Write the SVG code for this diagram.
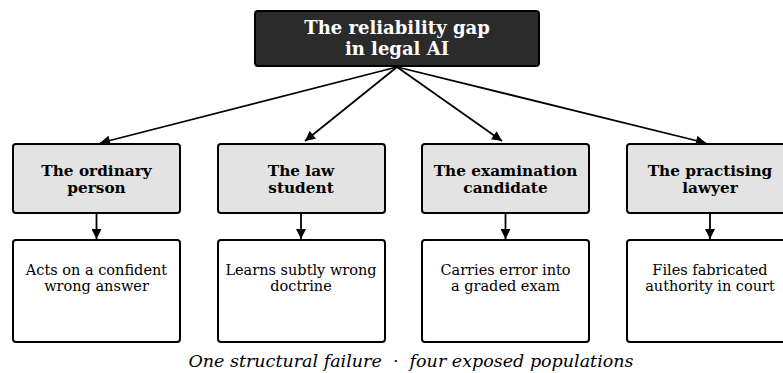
<svg xmlns="http://www.w3.org/2000/svg" width="783" height="373" viewBox="0 0 783 373">
<style>
text{font-family:"DejaVu Serif",serif;text-anchor:middle}
.top rect{fill:#2b2b2b;stroke:#000;stroke-width:2}
.top text{fill:#fff;font-weight:bold;font-size:18px}
.grp rect{fill:#e3e3e3;stroke:#000;stroke-width:2}
.grp text{fill:#000;font-weight:bold;font-size:15.3px}
.out rect{fill:#fff;stroke:#000;stroke-width:2}
.out text{fill:#000;font-size:14.5px}
.edge line{stroke:#000;stroke-width:1.8}
.cap{font-style:italic;font-size:17.5px;fill:#000}
</style>
<defs>
<marker id="ah" viewBox="0 0 10 10" refX="10" refY="5" markerWidth="11" markerHeight="10" markerUnits="userSpaceOnUse" orient="auto"><path d="M0,0L10,5L0,10z" fill="#000"/></marker>
</defs>
<rect width="783" height="373" fill="#fff"/>
<g class="edge" id="connectors">
<line x1="397" y1="67" x2="100" y2="143" marker-end="url(#ah)"/>
<line x1="397" y1="67" x2="305" y2="141" marker-end="url(#ah)"/>
<line x1="397" y1="67" x2="502" y2="141" marker-end="url(#ah)"/>
<line x1="397" y1="67" x2="706" y2="143" marker-end="url(#ah)"/>
<line x1="96.5" y1="214" x2="96.5" y2="239" marker-end="url(#ah)"/>
<line x1="301" y1="214" x2="301" y2="239" marker-end="url(#ah)"/>
<line x1="505.5" y1="214" x2="505.5" y2="239" marker-end="url(#ah)"/>
<line x1="710" y1="214" x2="710" y2="239" marker-end="url(#ah)"/>
</g>
<g class="top" id="root">
<rect x="255" y="11" width="284" height="55" rx="3"/>
<text x="397" y="33.5">The reliability gap</text>
<text x="397" y="55">in legal AI</text>
</g>
<g class="grp" id="ordinary">
<rect x="13" y="144" width="167" height="69" rx="3"/>
<text x="96.5" y="176">The ordinary</text>
<text x="96.5" y="193">person</text>
</g>
<g class="grp" id="student">
<rect x="218" y="144" width="167" height="69" rx="3"/>
<text x="301" y="176">The law</text>
<text x="301" y="193">student</text>
</g>
<g class="grp" id="candidate">
<rect x="422" y="144" width="167" height="69" rx="3"/>
<text x="505.5" y="176">The examination</text>
<text x="505.5" y="193">candidate</text>
</g>
<g class="grp" id="lawyer">
<rect x="627" y="144" width="167" height="69" rx="3"/>
<text x="710" y="176">The practising</text>
<text x="710" y="193">lawyer</text>
</g>
<g class="out" id="out1">
<rect x="13" y="240" width="167" height="102" rx="3"/>
<text x="96.5" y="275">Acts on a confident</text>
<text x="96.5" y="291">wrong answer</text>
</g>
<g class="out" id="out2">
<rect x="218" y="240" width="167" height="102" rx="3"/>
<text x="301" y="275">Learns subtly wrong</text>
<text x="301" y="291">doctrine</text>
</g>
<g class="out" id="out3">
<rect x="422" y="240" width="167" height="102" rx="3"/>
<text x="505.5" y="275">Carries error into</text>
<text x="505.5" y="291">a graded exam</text>
</g>
<g class="out" id="out4">
<rect x="627" y="240" width="167" height="102" rx="3"/>
<text x="710" y="275">Files fabricated</text>
<text x="710" y="291">authority in court</text>
</g>
<text class="cap" x="411" y="367">One structural failure &#160;·&#160; four exposed populations</text>
</svg>
